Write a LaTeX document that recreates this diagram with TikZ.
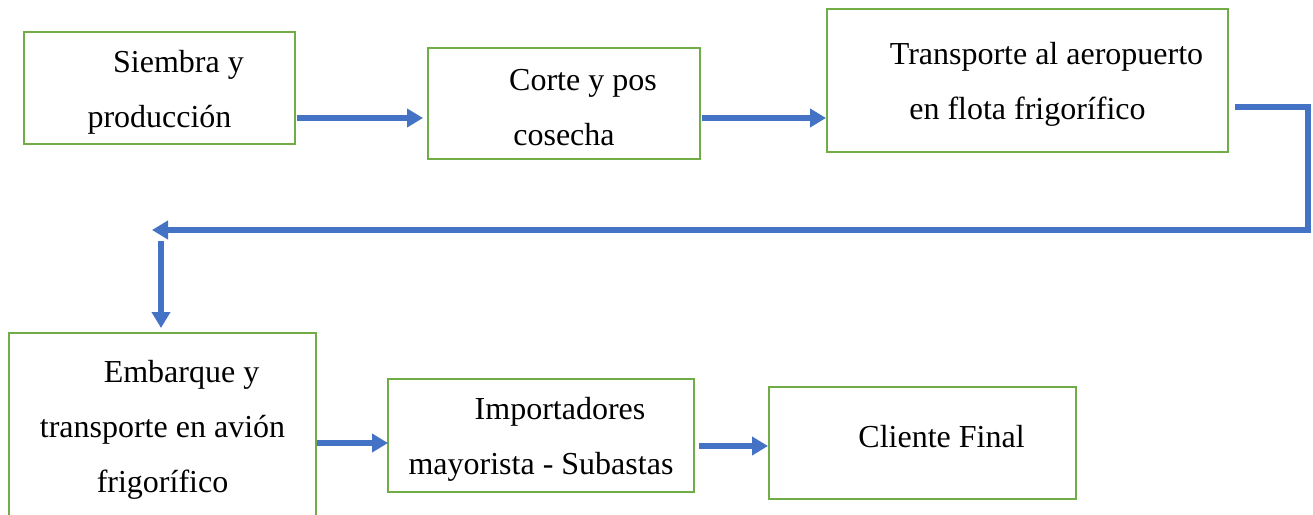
\documentclass[tikz,border=0pt]{standalone}
\usepackage{fontspec}
\setmainfont{Liberation Serif}
\usetikzlibrary{arrows.meta}
\definecolor{boxgreen}{HTML}{70AD47}
\definecolor{flowblue}{HTML}{4472C4}
\newcommand{\sangria}{\hspace*{38pt}\rule{0pt}{30pt}}
\begin{document}
\begin{tikzpicture}[
    x=1pt, y=-1pt,
    box/.style={rectangle, draw=boxgreen, line width=2.5pt, outer sep=0pt, align=center, font=\fontsize{32}{55}\selectfont},
    arrow/.style={-{Triangle[length=16pt,width=18pt]}, draw=flowblue, line width=5.5pt}
]
    \clip (0,0) rectangle (1313,514);
    \node[box, minimum width=271pt, minimum height=112pt] (siembra) at (159.5,88) {\sangria Siembra y\\producción};
    \node[box, minimum width=272pt, minimum height=111pt] (corte) at (564,103.5) {\sangria Corte y pos\\cosecha};
    \node[box, minimum width=401pt, minimum height=143pt] (transp) at (1027.5,80.5) {\sangria Transporte al aeropuerto\\en flota frigorífico};
    \node[box, minimum width=307pt, minimum height=185pt] (embarque) at (162.5,425.5) {\sangria Embarque y\\transporte en avión\\frigorífico};
    \node[box, minimum width=306pt, minimum height=113pt] (import) at (541,435.5) {\sangria Importadores\\mayorista - Subastas};
    \node[box, minimum width=307pt, minimum height=112pt, text height=22pt, text depth=13pt] (cliente) at (922.5,443) {\hspace*{38pt}Cliente Final};

    \coordinate (giro) at (152,230);
    \coordinate (bajada) at (161,241);

    \draw[arrow] ([shift={(2,30)}]siembra.east) -- ([shift={(-5,14.5)}]corte.west);
    \draw[arrow] ([shift={(2,14.5)}]corte.east) -- ([shift={(-1,37.5)}]transp.west);
    \draw[arrow] ([shift={(7,26.5)}]transp.east) -- ++(73,0) |- (giro);
    \draw[arrow] (bajada) -- ([shift={(-1.5,-5)}]embarque.north);
    \draw[arrow] ([shift={(1,17.5)}]embarque.east) -- ([shift={(0,7.5)}]import.west);
    \draw[arrow] ([shift={(5,10.5)}]import.east) -- ([shift={(-1,3)}]cliente.west);
\end{tikzpicture}
\end{document}
